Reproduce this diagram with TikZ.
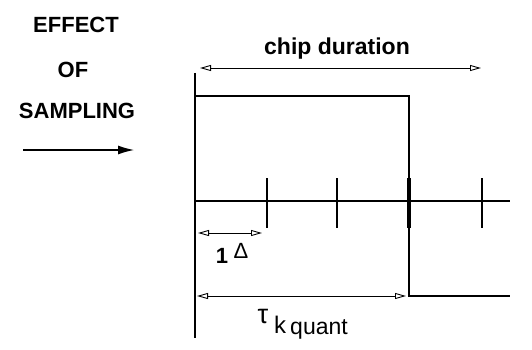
\documentclass[tikz,border=0pt]{standalone}
\usepackage{fontspec}
\setmainfont{Liberation Sans}
\usetikzlibrary{arrows.meta}
\begin{document}
\begin{tikzpicture}[x=1pt,y=-1pt,
  thick line/.style={line width=2.6pt},
  tickmark/.style={line width=2.2pt},
  dim/.style={line width=0.9pt,{Triangle[open,length=11pt,width=6pt,line width=0.9pt]}-{Triangle[open,length=11pt,width=6pt,line width=0.9pt]}},
  biglabel/.style={font=\fontsize{22}{26}\selectfont\bfseries,anchor=base,inner sep=0pt}]
\useasboundingbox (0,0) rectangle (532,350);
% left text
\node[biglabel] (t1) at (76,33) {EFFECT};
\node[biglabel] (t2) at (73,78) {OF};
\node[biglabel] (t3) at (77,118) {SAMPLING};
\coordinate (la) at (23,150);
\coordinate (lb) at (134,150);
\draw[line width=1.2pt,-{Latex[length=16pt,width=9pt]}] (la) -- (lb);
% axis
\coordinate (axT) at (195,73);
\coordinate (axB) at (195,338);
\draw[thick line] (axT) -- (axB);
% pulse
\coordinate (p0) at (195,96);
\coordinate (p1) at (409,96);
\coordinate (p2) at (409,296);
\coordinate (p3) at (510,296);
\draw[thick line] (p0) -- (p1) -- (p2) -- (p3);
% sampling line
\coordinate (s0) at (196,201);
\coordinate (s1) at (510,201);
\draw[thick line] (s0) -- (s1);
\foreach \xx/\nm in {267/a,337/b,482/d}{
  \coordinate (tk\nm t) at (\xx,178);
  \coordinate (tk\nm b) at (\xx,228);
  \draw[tickmark] (tk\nm t) -- (tk\nm b);
}
\coordinate (tkct) at (409,178);
\coordinate (tkcb) at (409,228);
\draw[line width=4pt] (tkct) -- (tkcb);
% chip duration
\coordinate (c0) at (200,68);
\coordinate (c1) at (481,68);
\draw[dim] (c0) -- (c1);
\node[biglabel,font=\fontsize{23}{26}\selectfont\bfseries] (chip) at (337,55) {chip duration};
% 1 delta
\coordinate (d0) at (198,233);
\coordinate (d1) at (262,233);
\draw[dim] (d0) -- (d1);
\node[font=\fontsize{22}{26}\selectfont\bfseries,anchor=base,inner sep=0pt] (one) at (222,263) {1};
\node[font=\fontsize{22}{26}\selectfont,anchor=base,inner sep=0pt] (delta) at (241,258) {Δ};
% tau
\coordinate (q0) at (197,296);
\coordinate (q1) at (406,296);
\draw[dim] (q0) -- (q1);
\node[font=\fontsize{27}{30}\selectfont,anchor=base,inner sep=0pt] (tau) at (263,323) {τ};
\node[font=\fontsize{24}{28}\selectfont,anchor=base,inner sep=0pt] (k) at (280,333) {k};
\node[font=\fontsize{23}{26}\selectfont,anchor=base,inner sep=0pt] (quant) at (319,334) {quant};
\end{tikzpicture}
\end{document}
